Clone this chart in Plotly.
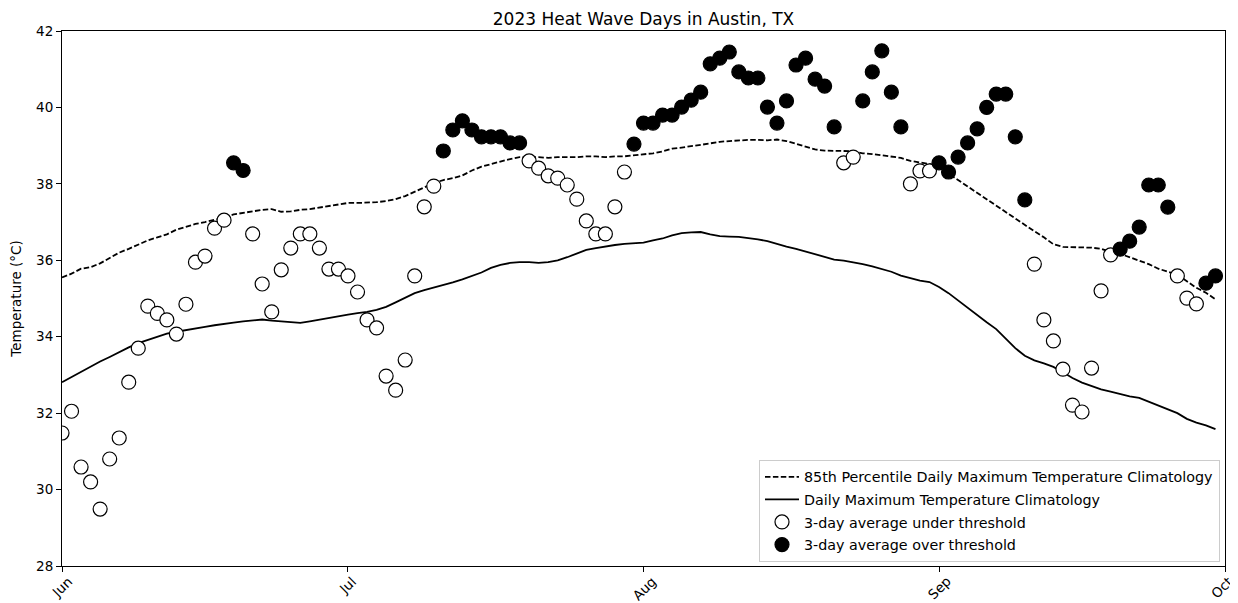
import pandas as pd
import plotly.graph_objects as go

dates = pd.date_range("2023-06-01", periods=122, freq="D")

# 3-day average daily max temperature (°C)
avg3 = [31.48, 32.05, 30.59, 30.20, 29.49, 30.80, 31.35, 32.81, 33.70, 34.80,
        34.61, 34.44, 34.07, 34.85, 35.95, 36.11, 36.84, 37.05, 38.55, 38.35,
        36.69, 35.38, 34.65, 35.75, 36.32, 36.69, 36.69, 36.32, 35.77, 35.77,
        35.59, 35.17, 34.44, 34.23, 32.97, 32.60, 33.39, 35.59, 37.40, 37.94,
        38.86, 39.41, 39.65, 39.41, 39.23, 39.23, 39.23, 39.07, 39.07, 38.60,
        38.41, 38.21, 38.15, 37.97, 37.60, 37.03, 36.69, 36.69, 37.40, 38.31,
        39.04, 39.59, 39.59, 39.80, 39.80, 40.01, 40.19, 40.40, 41.14, 41.29,
        41.45, 40.93, 40.77, 40.77, 40.01, 39.59, 40.17, 41.11, 41.29, 40.74,
        40.56, 39.49, 38.55, 38.70, 40.17, 40.93, 41.48, 40.40, 39.49, 38.00,
        38.34, 38.34, 38.55, 38.31, 38.70, 39.07, 39.44, 40.00, 40.35, 40.35,
        39.23, 37.58, 35.90, 34.44, 33.89, 33.15, 32.21, 32.03, 33.18, 35.20,
        36.14, 36.29, 36.50, 36.87, 37.97, 37.97, 37.39, 35.59, 35.01, 34.86,
        35.40, 35.59]

# 85th percentile daily max temperature climatology (°C)
p85 = [35.55, 35.65, 35.78, 35.82, 35.92, 36.05, 36.20, 36.30, 36.42, 36.52,
       36.60, 36.68, 36.80, 36.88, 36.95, 37.00, 37.05, 37.12, 37.20, 37.24,
       37.28, 37.32, 37.34, 37.27, 37.28, 37.32, 37.34, 37.38, 37.42, 37.47,
       37.50, 37.50, 37.51, 37.52, 37.55, 37.60, 37.68, 37.80, 37.92, 38.02,
       38.10, 38.15, 38.22, 38.35, 38.45, 38.52, 38.60, 38.65, 38.70, 38.70,
       38.70, 38.68, 38.70, 38.70, 38.70, 38.72, 38.72, 38.70, 38.72, 38.72,
       38.75, 38.78, 38.80, 38.85, 38.92, 38.95, 38.98, 39.02, 39.06, 39.10,
       39.12, 39.14, 39.15, 39.15, 39.14, 39.16, 39.12, 39.05, 38.98, 38.90,
       38.87, 38.87, 38.86, 38.85, 38.80, 38.78, 38.75, 38.72, 38.68, 38.60,
       38.56, 38.52, 38.45, 38.26, 38.10, 37.93, 37.77, 37.60, 37.43, 37.26,
       37.10, 36.93, 36.76, 36.60, 36.42, 36.35, 36.34, 36.33, 36.33, 36.30,
       36.22, 36.17, 36.08, 36.00, 35.90, 35.78, 35.70, 35.62, 35.45, 35.28,
       35.15, 34.98]

# Daily max temperature climatology (°C)
clim = [32.81, 32.95, 33.08, 33.22, 33.35, 33.47, 33.60, 33.72, 33.83, 33.92,
        34.00, 34.08, 34.13, 34.18, 34.22, 34.26, 34.30, 34.34, 34.37, 34.40,
        34.42, 34.45, 34.42, 34.40, 34.37, 34.36, 34.40, 34.45, 34.50, 34.55,
        34.58, 34.62, 34.65, 34.70, 34.78, 34.90, 35.02, 35.14, 35.22, 35.28,
        35.34, 35.42, 35.50, 35.58, 35.68, 35.80, 35.88, 35.93, 35.95, 35.95,
        35.93, 35.95, 36.00, 36.08, 36.18, 36.27, 36.32, 36.37, 36.40, 36.43,
        36.44, 36.46, 36.52, 36.57, 36.65, 36.71, 36.73, 36.74, 36.68, 36.63,
        36.62, 36.61, 36.58, 36.55, 36.50, 36.42, 36.36, 36.30, 36.23, 36.16,
        36.08, 36.02, 35.99, 35.95, 35.90, 35.84, 35.78, 35.70, 35.60, 35.53,
        35.47, 35.43, 35.30, 35.14, 34.95, 34.75, 34.55, 34.38, 34.20, 33.95,
        33.70, 33.50, 33.38, 33.30, 33.21, 33.07, 32.92, 32.80, 32.70, 32.62,
        32.56, 32.50, 32.44, 32.40, 32.30, 32.20, 32.12, 32.00, 31.85, 31.75,
        31.68, 31.58]

tick_dates = ["2023-06-01", "2023-07-01", "2023-08-01", "2023-09-01", "2023-10-01"]
tick_labels = ["Jun", "Jul", "Aug", "Sep", "Oct"]
y_ticks = [28, 30, 32, 34, 36, 38, 40, 42]

over = [a > p for a, p in zip(avg3, p85)]
x_under = [d for d, o in zip(dates, over) if not o]
y_under = [a for a, o in zip(avg3, over) if not o]
x_over = [d for d, o in zip(dates, over) if o]
y_over = [a for a, o in zip(avg3, over) if o]

FONT = "DejaVu Sans"
fig = go.Figure()
fig.add_trace(go.Scatter(x=dates, y=p85, mode="lines", legendgroup="a",
                         line=dict(color="black", width=1.8, dash="5.5px,2.4px"),
                         name="85th Percentile Daily Maximum Temperature Climatology"))
fig.add_trace(go.Scatter(x=dates, y=clim, mode="lines", legendgroup="b",
                         line=dict(color="black", width=1.8),
                         name="Daily Maximum Temperature Climatology"))
fig.add_trace(go.Scatter(x=x_under, y=y_under, mode="markers", legendgroup="c",
                         marker=dict(symbol="circle", size=14, color="white",
                                     line=dict(color="black", width=1.2)),
                         name="3-day average under threshold"))
fig.add_trace(go.Scatter(x=x_over, y=y_over, mode="markers", legendgroup="d",
                         marker=dict(symbol="circle", size=14, color="black",
                                     line=dict(color="black", width=1.2)),
                         name="3-day average over threshold"))

for i, (d, lab) in enumerate(zip(tick_dates, tick_labels)):
    fig.add_annotation(x=d, y=0, xref="x", yref="paper", text=lab, showarrow=False,
                       textangle=-45, xanchor="center", yanchor="top", yshift=-5,
                       xshift=(-4 if i == len(tick_dates) - 1 else 0),
                       font=dict(family=FONT, size=13.5, color="black"))

fig.update_layout(
    width=1230, height=595,
    margin=dict(l=54, r=13, t=23, b=37),
    paper_bgcolor="white", plot_bgcolor="white",
    font=dict(family=FONT, size=13.5, color="black"),
    title=dict(text="2023 Heat Wave Days in Austin, TX", x=0.5, xref="paper",
               y=0.982, yref="container", yanchor="middle",
               font=dict(family=FONT, size=17, color="black")),
    legend=dict(x=0.9957, y=0.0075, xanchor="right", yanchor="bottom",
                bgcolor="rgba(255,255,255,0.85)", bordercolor="#cccccc", borderwidth=1,
                font=dict(family=FONT, size=14.3, color="black"),
                itemwidth=34, tracegroupgap=1),
    showlegend=True,
)
fig.update_xaxes(type="date", range=["2023-06-01", "2023-10-01"],
                 tickvals=tick_dates, showticklabels=False,
                 ticks="outside", ticklen=5, tickwidth=1, tickcolor="black",
                 showline=True, linecolor="black", linewidth=1, mirror=True,
                 showgrid=False, zeroline=False)
fig.update_yaxes(range=[28, 42], tickvals=y_ticks, ticks="outside", ticklen=5,
                 tickwidth=1, tickcolor="black",
                 showline=True, linecolor="black", linewidth=1, mirror=True,
                 showgrid=False, zeroline=False, automargin=False,
                 tickfont=dict(family=FONT, size=13.5, color="black"),
                 title=dict(text="Temperature (°C)", standoff=12,
                            font=dict(family=FONT, size=13.5, color="black")))

fig.write_html("out.html")
